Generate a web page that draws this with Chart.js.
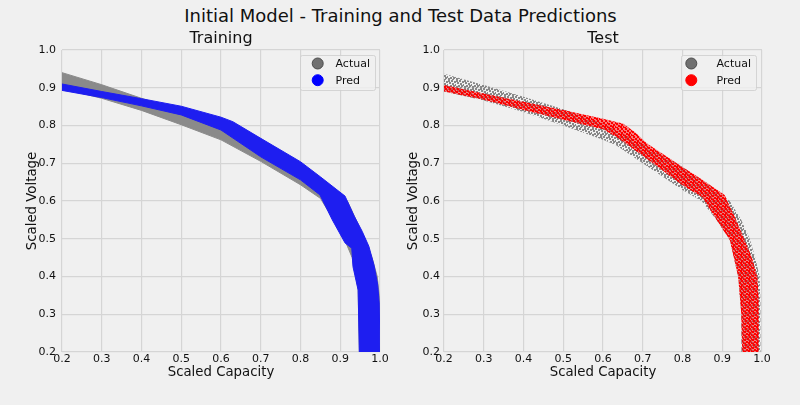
<!DOCTYPE html>
<html>
<head>
<meta charset="utf-8">
<script src="https://cdn.jsdelivr.net/npm/chart.js@4.4.0/dist/chart.umd.min.js"></script>
<style>
  html, body { margin: 0; padding: 0; background: #f0f0f0; }
  body { width: 800px; height: 405px; position: relative; overflow: hidden; font-family: "DejaVu Sans", sans-serif; }
  #title { position: absolute; left: 0; top: 5px; width: 801px; text-align: center; font-size: 18px; line-height: 21px; color: #111; }
  .panel { position: absolute; top: 0; width: 400px; height: 405px; }
  #left { left: 0; }
  #right { left: 400px; }
</style>
</head>
<body>
<div id="title">Initial Model - Training and Test Data Predictions</div>
<div class="panel" id="left"><canvas id="trainChart" width="400" height="405"></canvas></div>
<div class="panel" id="right"><canvas id="testChart" width="400" height="405"></canvas></div>
<script>
// axis ticks (both panels)
const tickValues = [0.2, 0.3, 0.4, 0.5, 0.6, 0.7, 0.8, 0.9, 1.0];
const xLabel = 'Scaled Capacity';
const yLabel = 'Scaled Voltage';

// edges of the point clouds: [capacity, voltage]
const trainActualUpper = [[0.2, 0.94], [0.3, 0.908], [0.4, 0.872], [0.5, 0.838], [0.6, 0.80], [0.7, 0.752], [0.8, 0.69], [0.85, 0.655], [0.9, 0.612], [0.918, 0.6], [0.94, 0.55], [0.962, 0.5], [0.98, 0.45], [0.993, 0.4], [0.998, 0.35], [1.0, 0.2]];
const trainActualLower = [[0.2, 0.898], [0.3, 0.872], [0.4, 0.84], [0.5, 0.802], [0.6, 0.762], [0.7, 0.705], [0.8, 0.643], [0.85, 0.607], [0.88, 0.556], [0.912, 0.495], [0.93, 0.45], [0.945, 0.366], [0.948, 0.2]];
const trainPredUpper = [[0.2, 0.91], [0.3, 0.89], [0.4, 0.871], [0.5, 0.851], [0.6, 0.822], [0.63, 0.81], [0.7, 0.766], [0.8, 0.704], [0.85, 0.664], [0.912, 0.613], [0.935, 0.56], [0.955, 0.52], [0.972, 0.48], [0.985, 0.43], [0.994, 0.38], [0.998, 0.33], [1.0, 0.2]];
const trainPredLower = [[0.2, 0.893], [0.3, 0.874], [0.4, 0.852], [0.5, 0.828], [0.6, 0.788], [0.7, 0.717], [0.8, 0.656], [0.849, 0.616], [0.88, 0.55], [0.912, 0.489], [0.929, 0.475], [0.932, 0.426], [0.945, 0.364], [0.948, 0.2]];

const testActualUpper = [[0.2, 0.937], [0.3, 0.907], [0.4, 0.876], [0.5, 0.843], [0.6, 0.805], [0.7, 0.752], [0.8, 0.69], [0.87, 0.64], [0.919, 0.6], [0.948, 0.55], [0.969, 0.5], [0.983, 0.45], [0.994, 0.4], [0.996, 0.34], [0.996, 0.2]];
const testActualLower = [[0.2, 0.89], [0.3, 0.866], [0.4, 0.836], [0.5, 0.80], [0.6, 0.762], [0.633, 0.748], [0.7, 0.70], [0.8, 0.629], [0.848, 0.60], [0.886, 0.55], [0.919, 0.497], [0.94, 0.4], [0.948, 0.3], [0.948, 0.2]];
const testPredUpper = [[0.2, 0.907], [0.3, 0.885], [0.4, 0.863], [0.5, 0.841], [0.6, 0.818], [0.65, 0.805], [0.68, 0.783], [0.71, 0.753], [0.8, 0.69], [0.85, 0.656], [0.906, 0.616], [0.935, 0.55], [0.955, 0.5], [0.975, 0.45], [0.988, 0.4], [0.992, 0.34], [0.992, 0.2]];
const testPredLower = [[0.2, 0.89], [0.3, 0.868], [0.4, 0.841], [0.5, 0.815], [0.6, 0.79], [0.633, 0.77], [0.7, 0.72], [0.8, 0.642], [0.85, 0.61], [0.886, 0.55], [0.919, 0.497], [0.923, 0.479], [0.94, 0.4], [0.948, 0.3], [0.95, 0.2]];

Chart.defaults.font.family = '"DejaVu Sans", sans-serif';
Chart.defaults.color = '#111';

// upper edge forward, lower edge back -> closed outline
function band(upper, lower) {
    return upper.concat(lower.slice().reverse()).map(p => ({ x: p[0], y: p[1] }));
}

// small dotted tile so the test clouds look like sparse markers
function speckle(color, cells, base) {
    const c = document.createElement('canvas');
    c.width = 8;
    c.height = 8;
    const g = c.getContext('2d');
    if (base) {
        g.fillStyle = base;
        g.fillRect(0, 0, 8, 8);
    }
    g.fillStyle = color;
    cells.forEach(p => g.fillRect(p[0], p[1], 2, 2));
    return g.createPattern(c, 'repeat');
}

function cloud(label, upper, lower, fillColor, edge, order) {
    return {
        label: label,
        data: band(upper, lower),
        showLine: true,
        fill: 'shape',
        backgroundColor: fillColor,
        borderColor: edge,
        borderWidth: 1,
        pointRadius: 0,
        tension: 0,
        order: order
    };
}

// subplot title over the plot area + legend box inside, top right
const panelDeco = {
    id: 'panelDeco',
    afterDraw(chart, args, opts) {
        const ctx = chart.ctx;
        const a = chart.chartArea;
        ctx.save();
        ctx.fillStyle = '#111';
        ctx.font = '16px "DejaVu Sans", sans-serif';
        ctx.textAlign = 'center';
        ctx.textBaseline = 'middle';
        ctx.fillText(opts.title, (a.left + a.right) / 2, 39);

        const w = 75, h = 35;
        const x = a.right - opts.right - w, y = a.top + 5;
        ctx.beginPath();
        ctx.roundRect(x + 0.5, y + 0.5, w, h, 2);
        ctx.fillStyle = 'rgba(240,240,240,0.8)';
        ctx.fill();
        ctx.strokeStyle = 'rgba(204,204,204,0.8)';
        ctx.lineWidth = 1;
        ctx.stroke();
        ctx.font = '11px "DejaVu Sans", sans-serif';
        ctx.textAlign = 'left';
        opts.items.forEach((it, i) => {
            const cy = y + 8.5 + i * 16.7;
            ctx.beginPath();
            ctx.arc(x + opts.markerX, cy, 5.5, 0, Math.PI * 2);
            ctx.fillStyle = it.color;
            ctx.fill();
            ctx.strokeStyle = it.edge;
            ctx.stroke();
            ctx.fillStyle = '#111';
            ctx.fillText(it.text, x + 35.5, cy + 0.5);
        });
        ctx.restore();
    }
};

function makeOptions(yWidth, yTitlePad, yTickPad, deco) {
    const grid = { color: '#d5d5d5', lineWidth: 1.2, drawTicks: false };
    return {
        responsive: false,
        animation: false,
        layout: { padding: { left: 0, right: deco.padRight, top: 50, bottom: 0 } },
        plugins: {
            legend: { display: false },
            tooltip: { enabled: false },
            panelDeco: deco
        },
        scales: {
            x: {
                type: 'linear',
                min: 0.2,
                max: 1.0,
                afterBuildTicks: ax => { ax.ticks = tickValues.map(v => ({ value: v })); },
                afterFit: s => { s.height = 53; },
                grid: grid,
                border: { display: false },
                ticks: { padding: 1, maxRotation: 0, autoSkip: false, font: { size: 11 }, color: '#111', callback: v => v.toFixed(1) },
                title: { display: true, text: xLabel, font: { size: 13.3 }, color: '#111', padding: { top: 0, bottom: 24 } }
            },
            y: {
                type: 'linear',
                min: 0.2,
                max: 1.0,
                afterBuildTicks: ax => { ax.ticks = tickValues.map(v => ({ value: v })); },
                afterFit: s => { s.width = yWidth; },
                grid: grid,
                border: { display: false },
                ticks: { padding: yTickPad, autoSkip: false, font: { size: 11 }, color: '#111', callback: v => v.toFixed(1) },
                title: { display: true, text: yLabel, font: { size: 13.3 }, color: '#111', padding: { top: yTitlePad, bottom: 0 } }
            }
        }
    };
}

// training panel
new Chart(document.getElementById('trainChart'), {
    type: 'scatter',
    data: {
        datasets: [
            cloud('Pred', trainPredUpper, trainPredLower, '#1e1ef0', '#1e1ef0', 1),
            cloud('Actual', trainActualUpper, trainActualLower, '#8a8a8a', '#8a8a8a', 2)
        ]
    },
    options: makeOptions(62, 25, 6, {
        title: 'Training', padRight: 20, right: 5, markerX: 17.7,
        items: [
            { text: 'Actual', color: '#707070', edge: '#4a4a4a' },
            { text: 'Pred', color: '#0000ff', edge: '#0000ff' }
        ]
    }),
    plugins: [panelDeco]
});

// test panel: uneven dot tiles
const grayDots = speckle('#888888', [[0, 0], [3, 0], [6, 1], [1, 2], [4, 3], [7, 4], [2, 5], [5, 5], [0, 6], [4, 7]]);
const redDots = speckle('#ff0000', [[1, 0], [5, 0], [3, 2], [7, 2], [0, 3], [5, 4], [2, 5], [7, 6], [4, 6], [0, 7]], 'rgba(255,30,30,0.55)');

new Chart(document.getElementById('testChart'), {
    type: 'scatter',
    data: {
        datasets: [
            cloud('Pred', testPredUpper, testPredLower, redDots, 'transparent', 1),
            cloud('Actual', testActualUpper, testActualLower, grayDots, 'transparent', 2)
        ]
    },
    options: makeOptions(44, 6, 4, {
        title: 'Test', padRight: 38, right: 6, markerX: 10.3,
        items: [
            { text: 'Actual', color: '#707070', edge: '#4a4a4a' },
            { text: 'Pred', color: '#ff0000', edge: '#ff0000' }
        ]
    }),
    plugins: [panelDeco]
});
</script>
</body>
</html>
